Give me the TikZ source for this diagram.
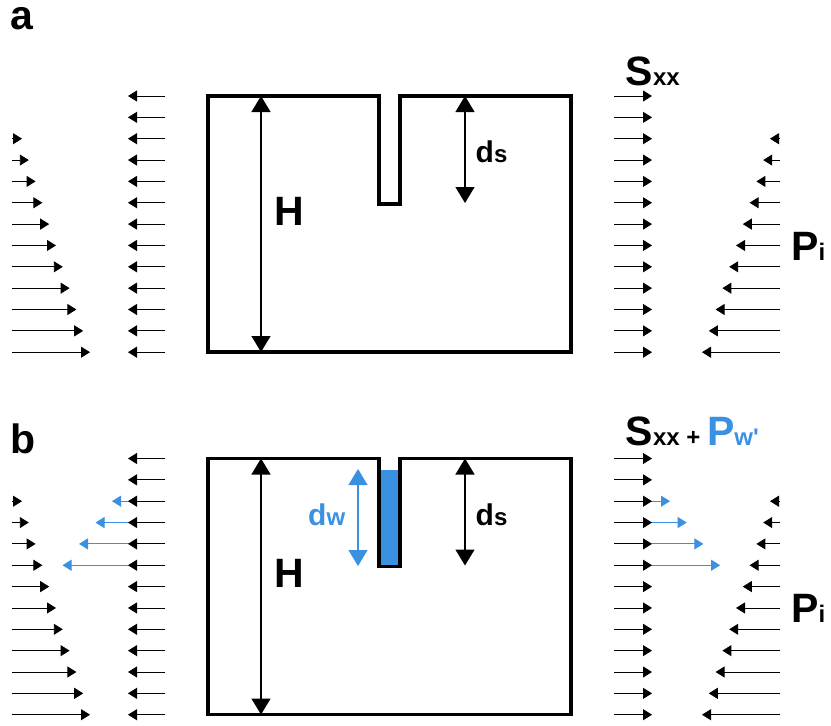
\documentclass[tikz,border=0pt]{standalone}
\usepackage{fontspec}
\setmainfont{Liberation Sans}
\usetikzlibrary{arrows.meta}

\definecolor{wblue}{RGB}{58,145,225}
\newcommand\labbig{\fontsize{41}{41}\selectfont}
\newcommand\labmid{\fontsize{30}{30}\selectfont}
\newcommand\labsub{\fontsize{24}{24}\selectfont}

\tikzset{
  force/.style={-{Triangle[length=9pt,width=11pt]},line width=0.9pt},
  wforce/.style={force,wblue},
  dim/.style={{Triangle[length=16pt,width=19pt]}-{Triangle[length=16pt,width=19pt]},line width=1.3pt},
  wall/.style={line width=3.5pt,line join=miter},
  lbl/.style={inner sep=0pt,anchor=base west,font=\bfseries},
}

\begin{document}
\begin{tikzpicture}[x=1pt,y=-1pt]
\useasboundingbox (0,0) rectangle (831,726);

\node[lbl] (tagA) at (10,29) {\labbig a};
\node[lbl] (tagB) at (10,453) {\labbig b};

% water in the slot
\fill[wblue] (379,469.5) rectangle (400,566);
\foreach \k in {3,...,6}{
  \pgfmathsetmacro\yy{458.5+(\k-1)*21.35}
  \coordinate (wlfrom\k) at (135,\yy);
  \coordinate (wlto\k) at ({112-(\k-3)*16.5},\yy);
  \coordinate (wrfrom\k) at (645,\yy);
  \coordinate (wrto\k) at ({670+(\k-3)*16.7},\yy);
  \draw[wforce] (wlfrom\k) -- (wlto\k);
  \draw[wforce] (wrfrom\k) -- (wrto\k);
}

\foreach \p/\dy in {a/0,b/362.5}{
  \begin{scope}[yshift=-\dy pt]
    \draw[wall] (208,96) -| (379,204) -| (400,96) -| (571,352) -- (208,352) -- cycle;
    \coordinate (Htop\p) at (261,96);
    \coordinate (Hbot\p) at (261,352);
    \draw[dim] (Htop\p) -- (Hbot\p);
    \coordinate (dstop\p) at (465,96);
    \coordinate (dsbot\p) at (465,203);
    \draw[dim] (dstop\p) -- (dsbot\p);
    \node[lbl] (H\p) at (274,225) {\labbig H};
    \node[lbl] (ds\p) at (475.5,162.5) {\labmid d\labsub s};
    \node[lbl] (Pi\p) at (791,260) {\labbig P\labsub i};
    \foreach \k in {1,...,13}{
      \pgfmathsetmacro\yy{96+(\k-1)*21.35}
      \coordinate (cf\p\k) at (165,\yy);
      \coordinate (ct\p\k) at (128,\yy);
      \coordinate (sf\p\k) at (614,\yy);
      \coordinate (st\p\k) at (652,\yy);
      \draw[force] (cf\p\k) -- (ct\p\k);
      \draw[force] (sf\p\k) -- (st\p\k);
    }
    \foreach \k in {3,...,13}{
      \pgfmathsetmacro\yy{96+(\k-1)*21.35}
      \coordinate (lf\p\k) at (12,\yy);
      \coordinate (lt\p\k) at ({22+(\k-3)*6.8},\yy);
      \coordinate (pf\p\k) at (780,\yy);
      \coordinate (pt\p\k) at ({770-(\k-3)*6.8},\yy);
      \draw[force] (lf\p\k) -- (lt\p\k);
      \draw[force] (pf\p\k) -- (pt\p\k);
    }
  \end{scope}
}

\coordinate (dwtop) at (358,469);
\coordinate (dwbot) at (358,566);
\draw[dim,wblue] (dwtop) -- (dwbot);
\node[lbl,wblue] (dw) at (308,525) {\labmid d\labsub w};

\node[lbl] (Sxxa) at (625.5,85) {\labbig S\labsub xx};
\node[lbl] (Sxxb) at (625.5,445) {\labbig S\labsub xx + \textcolor{wblue}{\labbig P\labsub w\textquotesingle}};
\end{tikzpicture}
\end{document}
